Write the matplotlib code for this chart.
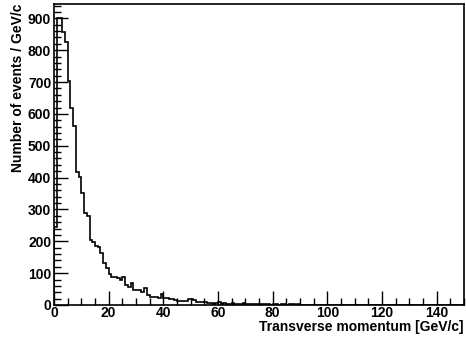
import numpy as np
import matplotlib
matplotlib.use("Agg")
import matplotlib.pyplot as plt
from matplotlib.ticker import MultipleLocator

# contenu des bins (1 GeV/c)
counts = [245, 900, 900, 857, 827, 702, 618, 561, 417, 403,
          353, 288, 280, 204, 198, 186, 182, 164, 131, 117,
          98, 89, 89, 84, 79, 87, 63, 58, 68, 47,
          48, 48, 42, 52, 31, 26, 26, 24, 21, 34,
          21, 23, 18, 18, 16, 14, 14, 14, 12, 18,
          18, 16, 10, 10, 9, 10, 5, 6, 4, 5,
          8, 4, 5, 3, 4, 6, 3, 4, 3, 5,
          3, 2, 4, 3, 2, 3, 2, 4, 2, 1,
          2, 3, 1, 2, 2, 1, 4, 4, 1, 2,
          1, 0, 1, 0, 1, 0, 0, 1, 0, 0,
          1, 0, 0, 0, 1, 0, 0, 0, 0, 1,
          0, 0, 0, 0, 0, 0, 1, 0, 0, 0,
          0, 0, 0, 0, 0, 0, 0, 0, 0, 0,
          0, 0, 0, 0, 0, 0, 0, 0, 0, 0,
          0, 0, 0, 0, 0, 0, 0, 0, 0, 0]
edges = np.arange(0, 151, 1)

xlabel = 'Transverse momentum [GeV/c]'
ylabel = 'Number of events / GeV/c'

plt.rcParams['font.family'] = ['Liberation Sans', 'DejaVu Sans']
plt.rcParams['font.weight'] = 'bold'

fig = plt.figure(figsize=(4.66, 3.43), dpi=100)
ax = fig.add_axes([0.1159, 0.1108, 0.8798, 0.8776])

ax.stairs(counts, edges, color='black', linewidth=1.2)

ax.set_xlim(0, 150)
ax.set_ylim(0, 945)

ax.xaxis.set_major_locator(MultipleLocator(20))
ax.xaxis.set_minor_locator(MultipleLocator(5))
ax.yaxis.set_major_locator(MultipleLocator(100))
ax.yaxis.set_minor_locator(MultipleLocator(20))
ax.tick_params(which='both', direction='in', top=False, right=False,
               labelsize=10, width=1)
ax.tick_params(which='major', length=10)
ax.tick_params(which='minor', length=5)
ax.tick_params(axis='y', pad=2)
ax.tick_params(axis='x', pad=1)
for lab in ax.get_xticklabels() + ax.get_yticklabels():
    lab.set_fontweight('bold')

for s in ax.spines.values():
    s.set_linewidth(1.2)

ax.set_xlabel(xlabel, fontsize=10, fontweight='bold', loc='right', labelpad=0)
ax.set_ylabel(ylabel, fontsize=10, fontweight='bold', loc='top', labelpad=2)

fig.savefig('out.png', dpi=100)
